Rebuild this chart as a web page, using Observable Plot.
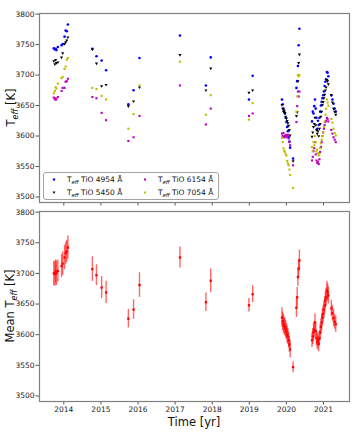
<!DOCTYPE html>
<html><head><meta charset="utf-8">
<script src="https://cdn.jsdelivr.net/npm/d3@7"></script>
<script src="https://cdn.jsdelivr.net/npm/@observablehq/plot@0.6"></script>
<style>
body{margin:0;background:#fff;}
#fig{position:relative;width:360px;height:432px;font-family:"DejaVu Sans",sans-serif;}
#fig svg{position:absolute;left:0;overflow:visible;}
</style></head><body><div id="fig"></div>
<script>
// Observation epochs (yr)
const epochs = [
  2013.73,2013.76,2013.78,2013.80,2013.84,2013.94,2013.97,2014.02,2014.05,2014.08,2014.11,
  2014.77,2014.88,2015.02,2015.14,
  2015.74,2015.88,2016.04,
  2017.13,2017.83,2017.96,2018.99,2019.09,
  2019.88,2019.90,2019.92,2019.94,2019.96,2019.98,2020.00,2020.02,2020.04,2020.06,2020.08,2020.10,2020.18,
  2020.27,2020.29,2020.31,2020.33,2020.35,
  2020.69,2020.71,2020.73,2020.75,2020.77,2020.79,2020.81,2020.83,2020.85,2020.87,2020.89,2020.91,2020.93,2020.95,
  2020.97,2020.99,2021.01,2021.03,2021.05,2021.07,2021.09,2021.11,2021.13,2021.21,2021.24,2021.27,2021.30,2021.33
];
const teffTiO4954 = [
  3744,3742,3743,3741,3746,3749,3751,3763,3773,3772,3783,
  3743,3731,3724,3708,
  3652,3675,3728,
  3765,3683,3729,3660,3699,
  3660,3652,3645,3640,3637,3630,3623,3615,3608,3598,3591,3581,3563,
  3679,3690,3715,3749,3776,
  3624,3640,3637,3649,3660,3645,3630,3612,3625,3618,3630,3640,3650,3656,
  3662,3667,3673,3682,3689,3693,3705,3704,3698,3667,3660,3653,3645,3640
];
const teffTiO5450 = [
  3723,3718,3725,3720,3721,3729,3736,3751,3754,3757,3762,
  3742,3719,3682,3684,
  3649,3657,3680,
  3733,3675,3711,3671,3675,
  3651,3645,3640,3642,3638,3632,3629,3625,3621,3617,3610,3601,3559,
  3633,3639,3690,3720,3734,
  3599,3606,3615,3620,3630,3618,3610,3604,3608,3600,3612,3620,3632,3640,
  3651,3656,3662,3668,3675,3680,3692,3690,3685,3667,3655,3645,3640,3635
];
const teffTiO6154 = [
  3663,3660,3662,3660,3664,3674,3679,3679,3689,3690,3694,
  3664,3662,3638,3626,
  3592,3598,3633,
  3683,3619,3645,3633,3637,
  3604,3600,3605,3598,3600,3602,3598,3600,3602,3596,3590,3585,3552,
  3623,3649,3673,3665,3673,
  3560,3566,3575,3580,3590,3570,3560,3556,3558,3554,3562,3574,3582,3590,
  3600,3606,3612,3618,3623,3625,3630,3628,3624,3610,3604,3598,3594,3590
];
const teffTiO7054 = [
  3670,3674,3680,3678,3686,3695,3697,3710,3714,3725,3728,
  3679,3677,3666,3660,
  3612,3636,3683,
  3722,3635,3667,3627,3654,
  3597,3590,3580,3576,3574,3570,3568,3559,3555,3552,3545,3536,3515,
  3640,3665,3700,3698,3700,
  3582,3576,3590,3585,3600,3590,3575,3578,3572,3568,3570,3580,3588,3594,
  3600,3606,3615,3624,3635,3645,3660,3655,3650,3628,3622,3612,3605,3601
];
const meanTeff = [
  3700,3699,3703,3700,3704,3712,3716,3726,3733,3736,3742,
  3707,3697,3677,3669,
  3626,3641,3681,
  3726,3653,3688,3648,3666,
  3628,3622,3618,3614,3612,3609,3605,3600,3597,3591,3584,3576,3547,
  3644,3661,3694,3708,3721,
  3591,3597,3604,3608,3620,3606,3594,3588,3591,3585,3594,3604,3613,3620,
  3628,3634,3641,3648,3656,3661,3672,3669,3664,3643,3635,3627,3621,3617
];
const meanErr = [
  20,20,19,20,18,19,19,20,18,18,19,
  20,17,18,18,
  15,16,20,
  17,15,19,11,14,
  16,15,15,14,14,14,13,14,13,13,13,14,9,
  16,16,15,15,17,
  12,13,14,13,14,13,12,13,12,13,12,13,13,14,
  14,13,14,14,14,15,15,14,14,13,13,14,12,13
];
const yearTicks = [2014,2015,2016,2017,2018,2019,2020,2021];
const teffTicks = [3500,3550,3600,3650,3700,3750,3800];
const seriesLabels = ["4954","5450","6154","7054"];

const rows = epochs.map((t,i)=>({t, b:teffTiO4954[i], k:teffTiO5450[i], m:teffTiO6154[i], y:teffTiO7054[i], mean:meanTeff[i], err:meanErr[i]}));

const xDomain = [2013.345, 2021.70];
const yDomain = [3491, 3801];
const FONT = "DejaVu Sans";
const C = {b:"#0000ff", k:"#000000", m:"#bf00bf", y:"#bfbf00"};

const fig = document.getElementById("fig");

const topPlot = Plot.plot({
  width:360, height:210, marginTop:13, marginBottom:8, marginLeft:39, marginRight:11,
  style:{fontFamily:FONT, fontSize:"7.5px", color:"#222", background:"transparent"},
  x:{domain:xDomain},
  y:{domain:yDomain},
  marks:[
    Plot.axisX({ticks:yearTicks, tickSize:3.5, tickFormat:()=>"", label:null, stroke:"#555"}),
    Plot.axisY({ticks:teffTicks, tickSize:3.5, tickPadding:1.5, tickFormat:"d", label:null, stroke:"#555"}),
    Plot.dot(rows, {x:"t", y:"b", r:1.3, fill:C.b}),
    Plot.dot(rows, {x:"t", y:"k", r:1.15, symbol:"triangle", fill:C.k, rotate:180}),
    Plot.dot(rows, {x:"t", y:"m", r:1.2, symbol:"square", fill:C.m}),
    Plot.dot(rows, {x:"t", y:"y", r:1.2, symbol:"square", fill:C.y}),
    Plot.frame({stroke:"#808080", strokeWidth:1.2})
  ]
});
topPlot.style.top = "0px";
fig.appendChild(topPlot);

const botPlot = Plot.plot({
  width:360, height:227, marginTop:6, marginBottom:31, marginLeft:39, marginRight:11,
  style:{fontFamily:FONT, fontSize:"7.5px", color:"#222", background:"transparent"},
  x:{domain:xDomain},
  y:{domain:yDomain},
  marks:[
    Plot.axisX({ticks:yearTicks, tickSize:3.5, tickPadding:2, tickFormat:"d", label:null, stroke:"#555"}),
    Plot.axisY({ticks:teffTicks, tickSize:3.5, tickPadding:1.5, tickFormat:"d", label:null, stroke:"#555"}),
    Plot.ruleX(rows, {x:"t", y1:d=>d.mean-d.err, y2:d=>d.mean+d.err, stroke:"#ff0000", strokeOpacity:0.6, strokeWidth:1.4}),
    Plot.dot(rows, {x:"t", y:"mean", r:1.3, symbol:"square", fill:"#ff0000"}),
    Plot.frame({stroke:"#808080", strokeWidth:1.2})
  ]
});
botPlot.style.top = "205px";
fig.appendChild(botPlot);

// Axis titles with subscript
function teffLabel(sel, prefix, size){
  const t = sel.append("text").attr("font-family", FONT).attr("font-size", size).attr("fill","#111").attr("text-anchor","middle");
  t.append("tspan").text(prefix + "T");
  t.append("tspan").attr("font-style","italic").attr("font-size", size*0.7).attr("dy", size*0.28).text("eff");
  t.append("tspan").attr("dy", -size*0.28).text(" [K]");
  return t;
}
const sTop = d3.select(topPlot);
teffLabel(sTop.append("g").attr("transform","translate(15,107.5) rotate(-90)"), "", 11.5);
const sBot = d3.select(botPlot);
teffLabel(sBot.append("g").attr("transform","translate(14,101) rotate(-90)"), "Mean ", 11.5);
sBot.append("text").attr("x",194).attr("y",221).attr("text-anchor","middle")
  .attr("font-family",FONT).attr("font-size",11.5).attr("fill","#111").text("Time [yr]");

// Legend
const lg = sTop.append("g").attr("text-anchor","start");
lg.append("rect").attr("x",43.5).attr("y",172.5).attr("width",175).attr("height",27).attr("rx",2.5)
  .attr("fill","#fff").attr("fill-opacity",0.85).attr("stroke","#999").attr("stroke-width",0.9);
const entries = [
  {key:"b", lab:seriesLabels[0], x:54, y:179.5},
  {key:"k", lab:seriesLabels[1], x:54, y:192.5},
  {key:"m", lab:seriesLabels[2], x:145, y:179.5},
  {key:"y", lab:seriesLabels[3], x:145, y:192.5}
];
entries.forEach(e=>{
  const g = lg.append("g");
  if (e.key==="b") g.append("circle").attr("cx",e.x).attr("cy",e.y).attr("r",1.2).attr("fill",C.b);
  if (e.key==="k") g.append("path").attr("d",`M${e.x-1.4},${e.y-1}L${e.x+1.4},${e.y-1}L${e.x},${e.y+1.4}Z`).attr("fill",C.k);
  if (e.key==="m") g.append("rect").attr("x",e.x-1).attr("y",e.y-1).attr("width",2).attr("height",2).attr("fill",C.m);
  if (e.key==="y") g.append("rect").attr("x",e.x-1).attr("y",e.y-1).attr("width",2).attr("height",2).attr("fill",C.y);
  const t = g.append("text").attr("x",e.x+13).attr("y",e.y+2.6).attr("text-anchor","start").attr("font-family",FONT).attr("font-size",7.5).attr("fill","#111");
  t.append("tspan").text("T");
  t.append("tspan").attr("font-style","italic").attr("font-size",5.3).attr("dy",1.8).text("eff");
  t.append("tspan").attr("dy",-1.8).text(" TiO " + e.lab + " Å");
});
</script></body></html>
